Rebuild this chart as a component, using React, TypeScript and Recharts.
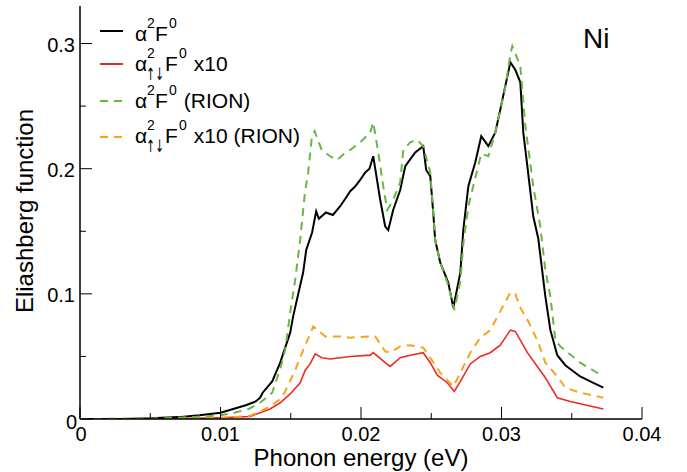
import React from "react";
import { Line, LineChart, XAxis, YAxis } from "recharts";

const FONT = "'Liberation Sans', Arial, Helvetica, sans-serif";

const energyTicks = [0, 0.005, 0.01, 0.015, 0.02, 0.025, 0.03, 0.035, 0.04];
const energyLabels = [0, 0.01, 0.02, 0.03, 0.04];
const valueTicks = [0, 0.05, 0.1, 0.15, 0.2, 0.25, 0.3];
const valueLabels = [0, 0.1, 0.2, 0.3];

// alpha^2 F^0
const blackEnergy = [
  0, 0.003, 0.005, 0.007, 0.0085, 0.01, 0.0109, 0.0118, 0.0125, 0.01282, 0.013, 0.01368, 0.01425, 0.01496,
  0.01517, 0.01588, 0.0161, 0.01652, 0.01681, 0.017, 0.0175, 0.018, 0.01852, 0.019, 0.01923, 0.0196, 0.01994,
  0.0203, 0.0206, 0.02087, 0.02137, 0.02172, 0.02194, 0.02229, 0.02279, 0.02315, 0.02386, 0.02443, 0.02464,
  0.02493, 0.02514, 0.02528, 0.02564, 0.02621, 0.02657, 0.02707, 0.02728, 0.02764, 0.02813, 0.02856, 0.02906,
  0.02956, 0.02991, 0.03027, 0.03063, 0.03098, 0.03134, 0.03155, 0.03184, 0.03226, 0.03262, 0.03312, 0.03348,
  0.03397, 0.03454, 0.0356, 0.0365, 0.03725
];
const blackValue = [
  0, 0, 0.0005, 0.0015, 0.003, 0.005, 0.008, 0.011, 0.014, 0.017, 0.021, 0.03, 0.045, 0.069,
  0.082, 0.117, 0.135, 0.149, 0.166, 0.16, 0.165, 0.163, 0.17, 0.178, 0.182, 0.186, 0.191,
  0.197, 0.2, 0.21, 0.175, 0.154, 0.151, 0.167, 0.183, 0.202, 0.213, 0.218, 0.199,
  0.194, 0.165, 0.143, 0.125, 0.109, 0.089, 0.117, 0.151, 0.186, 0.205, 0.226, 0.218,
  0.229, 0.247, 0.266, 0.285, 0.279, 0.269, 0.229, 0.202, 0.162, 0.144, 0.098, 0.071,
  0.051, 0.043, 0.034, 0.029, 0.025
];

// alpha^2_updown F^0 x10
const redEnergy = [
  0, 0.006, 0.008, 0.01, 0.0121, 0.01282, 0.01353, 0.01425, 0.01496, 0.01567, 0.01603, 0.01638, 0.01674,
  0.0172, 0.01781, 0.01852, 0.01923, 0.02066, 0.02087, 0.02172, 0.02208, 0.02279, 0.0235, 0.02443, 0.02493,
  0.02543, 0.02614, 0.02664, 0.02707, 0.02778, 0.02849, 0.0292, 0.02991, 0.03063, 0.03098, 0.03134, 0.03184,
  0.03255, 0.03312, 0.03397, 0.0349, 0.03725
];
const redValue = [
  0, 0, 0.0005, 0.001, 0.002, 0.005, 0.008, 0.013, 0.02, 0.029, 0.039, 0.044, 0.052,
  0.049, 0.048, 0.049, 0.05, 0.051, 0.053, 0.045, 0.042, 0.049, 0.051, 0.053, 0.045,
  0.035, 0.029, 0.022, 0.03, 0.044, 0.05, 0.053, 0.059, 0.071, 0.07, 0.063, 0.053,
  0.042, 0.033, 0.017, 0.014, 0.008
];

// alpha^2 F^0 (RION)
const greenEnergy = [
  0, 0.005, 0.008, 0.01, 0.011, 0.012, 0.01282, 0.01368, 0.01425, 0.0146, 0.01496, 0.0153, 0.01567, 0.016,
  0.01624, 0.0165, 0.0167, 0.0172, 0.0178, 0.0183, 0.0188, 0.01923, 0.01994, 0.02066, 0.02087, 0.02123, 0.02158,
  0.02187, 0.02229, 0.02279, 0.02301, 0.0235, 0.024, 0.02443, 0.02493, 0.02514, 0.02528, 0.02564, 0.02621,
  0.02664, 0.02707, 0.02728, 0.02764, 0.02856, 0.02906, 0.02956, 0.03027, 0.03063, 0.03077, 0.03134, 0.0317,
  0.03226, 0.03276, 0.03312, 0.03348, 0.03383, 0.03419, 0.0356, 0.03725
];
const greenValue = [
  0, 0.0003, 0.0015, 0.003, 0.005, 0.008, 0.013, 0.021, 0.04, 0.055, 0.085, 0.11, 0.143, 0.18,
  0.197, 0.225, 0.23, 0.215, 0.21, 0.207, 0.212, 0.215, 0.221, 0.229, 0.237, 0.213, 0.186,
  0.167, 0.175, 0.189, 0.215, 0.221, 0.223, 0.218, 0.197, 0.165, 0.143, 0.125, 0.107,
  0.087, 0.11, 0.14, 0.17, 0.212, 0.21, 0.229, 0.265, 0.291, 0.298, 0.282, 0.234,
  0.186, 0.154, 0.119, 0.098, 0.063, 0.058, 0.045, 0.034
];

// alpha^2_updown F^0 x10 (RION)
const orangeEnergy = [
  0, 0.006, 0.008, 0.01, 0.0121, 0.01282, 0.01353, 0.01425, 0.0146, 0.01531, 0.01588, 0.01638, 0.0166,
  0.01745, 0.01852, 0.01923, 0.02066, 0.02101, 0.02172, 0.02208, 0.02279, 0.0235, 0.02443, 0.02493, 0.02564,
  0.02657, 0.02707, 0.02778, 0.02849, 0.0292, 0.02991, 0.03063, 0.03098, 0.03134, 0.03191, 0.03262, 0.03312,
  0.03397, 0.03454, 0.03561, 0.03725
];
const orangeValue = [
  0, 0, 0.0005, 0.001, 0.0025, 0.006, 0.01, 0.016, 0.022, 0.039, 0.055, 0.068, 0.074,
  0.066, 0.066, 0.065, 0.066, 0.066, 0.054, 0.053, 0.058, 0.059, 0.057, 0.049, 0.037,
  0.026, 0.037, 0.053, 0.065, 0.071, 0.086, 0.101, 0.1, 0.089, 0.078, 0.061, 0.045,
  0.034, 0.025, 0.021, 0.017
];

const toPoints = (energy: number[], value: number[]) => energy.map((e, i) => ({ e, v: value[i] }));

const isLabelled = (v: number, labels: number[]) => labels.some((l) => Math.abs(l - v) < 1e-9);

function BottomTick({ x, y, payload }: any) {
  const major = isLabelled(payload.value, energyLabels);
  return (
    <g>
      <line x1={x} x2={x} y1={y} y2={y - (major ? 12 : 6)} stroke="#000" strokeWidth={1} />
      {major && (
        <text x={payload.value === 0 ? x + 1 : x} y={y + 22} textAnchor="middle" fontSize={20} fontFamily={FONT} fill="#000">
          {String(payload.value)}
        </text>
      )}
    </g>
  );
}

function TopTick({ x, y, payload }: any) {
  const major = isLabelled(payload.value, energyLabels);
  return <line x1={x} x2={x} y1={y} y2={y + (major ? 12 : 6)} stroke="#000" strokeWidth={1} />;
}

function LeftTick({ x, y, payload }: any) {
  const major = isLabelled(payload.value, valueLabels);
  const zero = payload.value === 0;
  return (
    <g>
      <line x1={x} x2={x + (major ? 12 : 6)} y1={y} y2={y} stroke="#000" strokeWidth={1} />
      {major && (
        <text x={zero ? x - 3 : x - 5} y={zero ? y + 10 : y + 8} textAnchor="end" fontSize={20} fontFamily={FONT} fill="#000">
          {String(payload.value)}
        </text>
      )}
    </g>
  );
}

function RightTick({ x, y, payload }: any) {
  const major = isLabelled(payload.value, valueLabels);
  return <line x1={x} x2={x - (major ? 12 : 6)} y1={y} y2={y} stroke="#000" strokeWidth={1} />;
}

function XTitle({ viewBox }: any) {
  return (
    <text x={viewBox.x + viewBox.width / 2} y={466} textAnchor="middle" fontSize={24} fontFamily={FONT} fill="#000">
      Phonon energy (eV)
    </text>
  );
}

function YTitle() {
  return (
    <text transform="translate(33,211) rotate(-90)" textAnchor="middle" fontSize={24} fontFamily={FONT} fill="#000">
      Eliashberg function
    </text>
  );
}

function Overlay() {
  const rows = [
    { color: "#000000", dash: undefined, lineY: 31, base: 41, sub: false, tail: "" },
    { color: "#ee2a24", dash: undefined, lineY: 64, base: 71, sub: true, tail: " x10" },
    { color: "#66b843", dash: "8 6", lineY: 101, base: 108, sub: false, tail: " (RION)" },
    { color: "#f7a41c", dash: "8 6", lineY: 137, base: 143, sub: true, tail: " x10 (RION)" }
  ];
  return (
    <svg width={687} height={472} style={{ position: "absolute", left: 0, top: 0, pointerEvents: "none" }}>
      {rows.map((r, i) => {
        const fx = r.sub ? 165 : 155;
        return (
          <g key={i} fontFamily={FONT} fill="#000">
            <line x1={100} x2={123} y1={r.lineY} y2={r.lineY} stroke={r.color} strokeWidth={2} strokeDasharray={r.dash} />
            <text x={135} y={r.base} fontSize={21}>α</text>
            <text x={147} y={r.base - 13} fontSize={14}>2</text>
            {r.sub && (
              <text x={146} y={r.base + 9} fontSize={17} fontFamily="'DejaVu Sans', sans-serif" textLength={18} lengthAdjust="spacingAndGlyphs">
                ↑↓
              </text>
            )}
            <text x={fx} y={r.base} fontSize={21}>
              F
            </text>
            <text x={fx + 14} y={r.base - 13} fontSize={14}>0</text>
            <text x={fx + 23} y={r.base} fontSize={21} style={{ whiteSpace: "pre" }}>
              {r.tail}
            </text>
          </g>
        );
      })}
      <text x={583} y={48} fontSize={28} fontFamily={FONT} fill="#000">
        Ni
      </text>
    </svg>
  );
}

export default function App() {
  return (
    <div style={{ position: "absolute", left: 0, top: 0, width: 687, height: 472, background: "#fff" }}>
      <LineChart width={687} height={472} margin={{ top: 6, right: 45, bottom: 0, left: 0 }}>
        <XAxis
          dataKey="e"
          type="number"
          domain={[0, 0.04]}
          ticks={energyTicks}
          interval={0}
          height={53}
          tickSize={0}
          tickMargin={0}
          tickLine={false}
          tick={BottomTick}
          axisLine={{ stroke: "#000", strokeWidth: 1.5 }}
          allowDataOverflow
          label={<XTitle />}
        />
        <XAxis
          xAxisId="top"
          orientation="top"
          dataKey="e"
          type="number"
          domain={[0, 0.04]}
          ticks={energyTicks}
          interval={0}
          height={0}
          tickSize={0}
          tickMargin={0}
          tickLine={false}
          tick={TopTick}
          axisLine={{ stroke: "#000", strokeWidth: 1.5 }}
        />
        <YAxis
          type="number"
          domain={[0, 0.33]}
          ticks={valueTicks}
          interval={0}
          width={80}
          tickSize={0}
          tickMargin={0}
          tickLine={false}
          tick={LeftTick}
          axisLine={{ stroke: "#000", strokeWidth: 1.5 }}
          allowDataOverflow
          label={<YTitle />}
        />
        <YAxis
          yAxisId="right"
          orientation="right"
          type="number"
          domain={[0, 0.33]}
          ticks={valueTicks}
          interval={0}
          width={0}
          tickSize={0}
          tickMargin={0}
          tickLine={false}
          tick={RightTick}
          axisLine={{ stroke: "#000", strokeWidth: 1.5 }}
        />
        <Line data={toPoints(redEnergy, redValue)} dataKey="v" stroke="#ee2a24" strokeWidth={1.6} dot={false} isAnimationActive={false} />
        <Line data={toPoints(orangeEnergy, orangeValue)} dataKey="v" stroke="#f7a41c" strokeWidth={2} strokeDasharray="8 6" dot={false} isAnimationActive={false} />
        <Line data={toPoints(blackEnergy, blackValue)} dataKey="v" stroke="#000" strokeWidth={2} dot={false} isAnimationActive={false} />
        <Line data={toPoints(greenEnergy, greenValue)} dataKey="v" stroke="#66b843" strokeWidth={2} strokeDasharray="8 6" dot={false} isAnimationActive={false} />
      </LineChart>
      <Overlay />
    </div>
  );
}
